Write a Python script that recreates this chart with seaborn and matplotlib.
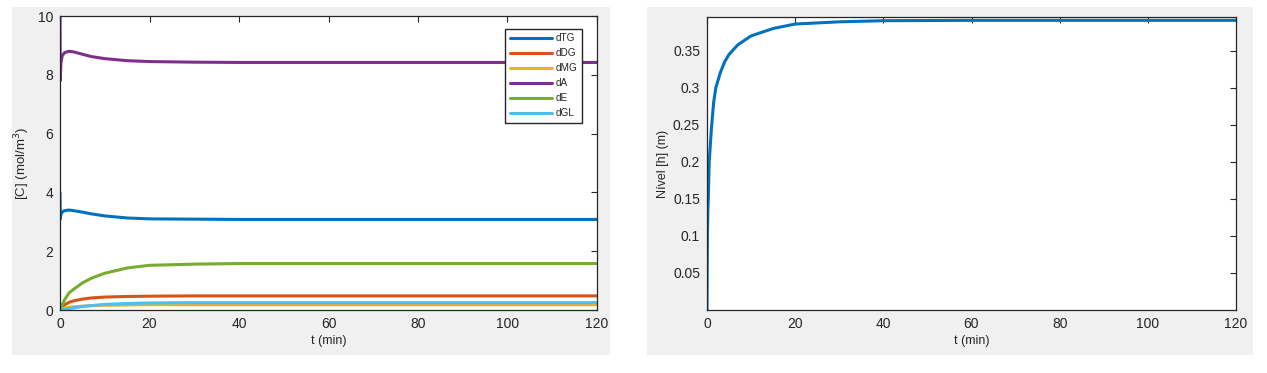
import seaborn as sb
import numpy as np
import pandas as pd
import matplotlib
matplotlib.use("Agg")
import matplotlib.pyplot as plt
from matplotlib.patches import Rectangle

# concentrations
t_c = [0, 0.05, 0.2, 0.5, 1, 2, 3, 5, 7, 10, 15, 20, 30, 40, 60, 80, 100, 120]
dTG = [4.0, 3.1, 3.25, 3.33, 3.38, 3.4, 3.38, 3.33, 3.27, 3.2, 3.13, 3.1, 3.09, 3.08, 3.08, 3.08, 3.08, 3.08]
dDG = [0, 0.01, 0.05, 0.1, 0.17, 0.26, 0.31, 0.37, 0.41, 0.44, 0.46, 0.47, 0.48, 0.48, 0.48, 0.48, 0.48, 0.48]
dMG = [0, 0.005, 0.02, 0.04, 0.06, 0.09, 0.11, 0.13, 0.15, 0.16, 0.17, 0.18, 0.18, 0.18, 0.18, 0.18, 0.18, 0.18]
dA = [10.0, 7.8, 8.4, 8.65, 8.75, 8.8, 8.78, 8.7, 8.62, 8.55, 8.48, 8.45, 8.43, 8.42, 8.42, 8.42, 8.42, 8.42]
dE = [0, 0.01, 0.07, 0.18, 0.34, 0.58, 0.7, 0.92, 1.08, 1.25, 1.43, 1.52, 1.56, 1.58, 1.58, 1.58, 1.58, 1.58]
dGL = [0, 0.0, 0.005, 0.01, 0.02, 0.05, 0.07, 0.12, 0.15, 0.19, 0.22, 0.24, 0.25, 0.25, 0.25, 0.25, 0.25, 0.25]
especies = ["dTG", "dDG", "dMG", "dA", "dE", "dGL"]
cores = ["#0072BD", "#D95319", "#EDB120", "#7E2F8E", "#77AC30", "#4DBEEE"]

# level, right panel
t_h = [0, 0.05, 0.1, 0.2, 0.3, 0.5, 1, 1.5, 2, 3, 4, 5, 7, 10, 15, 20, 30, 40, 60, 80, 100, 120]
nivel = [0, 0.06, 0.1, 0.135, 0.15, 0.2, 0.245, 0.28, 0.3, 0.32, 0.335, 0.345, 0.358, 0.37, 0.38, 0.386, 0.389, 0.3905, 0.391, 0.391, 0.391, 0.391]

sb.set_style("white")
plt.rcParams['font.family'] = ['Liberation Sans', 'DejaVu Sans']
txt = "#262626"

W, H = 1267, 373
fig = plt.figure(figsize=(W / 100, H / 100), dpi=100)
fig.patch.set_facecolor("white")
for x0, x1 in [(12, 610), (647, 1253)]:
    fig.patches.append(Rectangle((x0 / W, 1 - 355 / H), (x1 - x0) / W, (355 - 7) / H,
                                 transform=fig.transFigure, facecolor="#f0f0f0",
                                 edgecolor="none", zorder=-10))


def box(ax):
    ax.set_facecolor("white")
    for s in ax.spines.values():
        s.set_visible(True)
        s.set_color(txt)
        s.set_linewidth(0.9)
    ax.tick_params(direction="in", length=4.5, width=0.8, color=txt, labelcolor=txt,
                   labelsize=10, top=True, right=True, pad=5)
    ax.set_xlim(0, 120)
    ax.set_xticks(range(0, 121, 20))


c = pd.DataFrame({"t": np.tile(t_c, 6),
                  "C": np.concatenate([dTG, dDG, dMG, dA, dE, dGL]),
                  "esp": np.repeat(especies, len(t_c))})

ax1 = fig.add_axes([60 / W, 1 - 310 / H, 537 / W, 294 / H])
sb.lineplot(data=c, x="t", y="C", hue="esp", palette=cores, estimator=None,
            linewidth=2.2, ax=ax1)
box(ax1)
ax1.set_ylim(0, 10)
ax1.set_yticks(range(0, 11, 2))
ax1.set_xlabel("t (min)", fontsize=9, color=txt, labelpad=3)
ax1.set_ylabel("[C] (mol/m$^3$)", fontsize=9.5, color=txt, labelpad=4)
ax1.legend(loc="upper right", bbox_to_anchor=(0.972, 0.956), borderaxespad=0,
           fontsize=7.2, handlelength=4.2, labelspacing=0.5, fancybox=False,
           framealpha=1, edgecolor=txt, borderpad=0.45, handletextpad=0.4)

h = pd.DataFrame({"t": t_h, "h": nivel})
ax2 = fig.add_axes([707 / W, 1 - 310 / H, 529 / W, 293 / H])
sb.lineplot(data=h, x="t", y="h", color="#0072BD", linewidth=2.2, estimator=None, ax=ax2)
box(ax2)
ax2.set_ylim(0, 0.3955)
ax2.set_yticks([0.05, 0.1, 0.15, 0.2, 0.25, 0.3, 0.35])
ax2.set_yticklabels(["0.05", "0.1", "0.15", "0.2", "0.25", "0.3", "0.35"])
ax2.set_xlabel("t (min)", fontsize=9, color=txt, labelpad=3)
ax2.set_ylabel("Nível [h] (m)", fontsize=9, color=txt, labelpad=3)

fig.savefig("out.png", dpi=100)
